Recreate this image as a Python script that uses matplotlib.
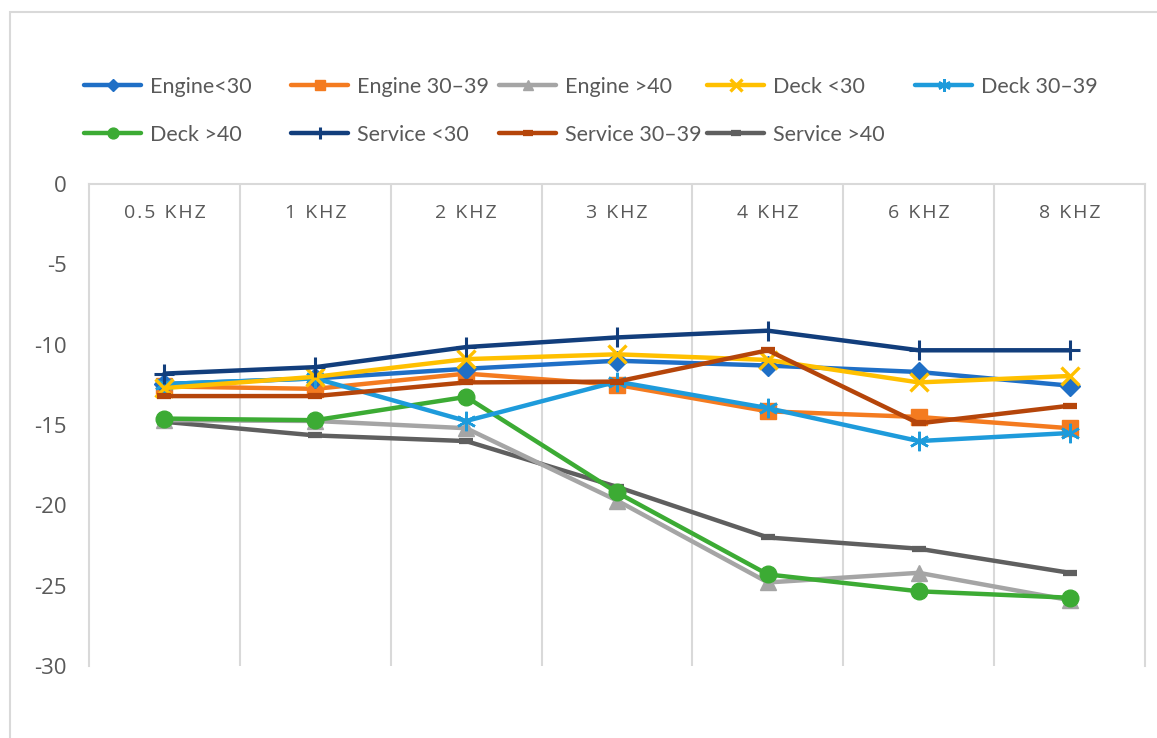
import matplotlib
matplotlib.use("Agg")
import matplotlib.pyplot as plt
from matplotlib.patches import Rectangle

# ---------------- data ----------------
categories = ["0.5 KHZ", "1 KHZ", "2 KHZ", "3 KHZ", "4 KHZ", "6 KHZ", "8 KHZ"]

engine_lt30   = [-12.45, -12.1, -11.5, -11.0, -11.3, -11.7, -12.55]
engine_30_39  = [-12.6, -12.75, -11.8, -12.5, -14.15, -14.5, -15.2]
engine_gt40   = [-14.7, -14.75, -15.2, -19.7, -24.8, -24.2, -25.9]
deck_lt30     = [-12.7, -12.0, -10.9, -10.6, -10.95, -12.35, -11.95]
deck_30_39    = [-12.45, -12.1, -14.75, -12.3, -13.95, -16.0, -15.5]
deck_gt40     = [-14.6, -14.7, -13.25, -19.2, -24.3, -25.35, -25.75]
service_lt30  = [-11.8, -11.4, -10.15, -9.55, -9.13, -10.35, -10.35]
service_30_39 = [-13.2, -13.2, -12.35, -12.3, -10.35, -14.9, -13.8]
service_gt40  = [-14.8, -15.65, -16.0, -18.85, -22.0, -22.7, -24.2]

series_labels = ["Engine<30", "Engine 30\u201339", "Engine >40", "Deck <30", "Deck 30\u201339",
                 "Deck >40", "Service <30", "Service 30\u201339", "Service >40"]
series_values = [engine_lt30, engine_30_39, engine_gt40, deck_lt30, deck_30_39,
                 deck_gt40, service_lt30, service_30_39, service_gt40]
series_colors = ["#1F6FC6", "#F47B20", "#A5A5A5", "#FFC000", "#1E9BDB",
                 "#3CAB34", "#123E7C", "#B5450A", "#5F5F5F"]
series_markers = ["D", "s", "^", "x", (6, 2, 0), "o", "+", "_", "_"]
series_msize = [10, 11, 11, 13, 14, 12, 14, 10, 10]
series_mew = [1, 1, 1, 2.4, 1.8, 1, 2.2, 4.5, 4.5]
series_z = [5, 4, 3, 6, 5, 3, 7, 6, 2]

# ---------------- figure ----------------
W, H = 1157, 738
fig = plt.figure(figsize=(W / 100, H / 100), dpi=100)
fig.patch.set_facecolor("white")

# outer light frame
fig.add_artist(Rectangle((10 / W, -0.1), 1.2, 1 - 12 / H + 0.1, transform=fig.transFigure,
                         fill=False, edgecolor="#D9D9D9", linewidth=1.5))

ax = fig.add_axes([89 / W, 1 - 666 / H, (1145 - 89) / W, (666 - 184) / H])

x = list(range(len(categories)))
handles = []
for vals, lab, col, mk, ms, mew, z in zip(series_values, series_labels, series_colors,
                                          series_markers, series_msize, series_mew, series_z):
    h, = ax.plot(x, vals, color=col, linewidth=3.2, marker=mk, markersize=ms,
                 markeredgewidth=mew, markeredgecolor=col, markerfacecolor=col,
                 label=lab, zorder=z, solid_capstyle="round", solid_joinstyle="round")
    handles.append(h)

ax.set_xlim(-0.5, len(categories) - 0.5)
ax.set_ylim(-30, 0)
ax.set_yticks([0, -5, -10, -15, -20, -25, -30])
ax.set_yticklabels(["0", "-5", "-10", "-15", "-20", "-25", "-30"])

# spines
grid_c = "#D9D9D9"
for s in ["top", "left", "right"]:
    ax.spines[s].set_color(grid_c)
    ax.spines[s].set_linewidth(1.5)
ax.spines["bottom"].set_visible(False)

# vertical gridlines between categories
ax.set_xticks([i + 0.5 for i in range(len(categories) - 1)], minor=True)
ax.grid(True, which="minor", axis="x", color=grid_c, linewidth=1.5)
ax.tick_params(which="minor", length=0)

# category labels inside the plot, below the top axis line
def spaced(s):
    return "\u200a".join(list(s))

ax.xaxis.tick_top()
ax.set_xticks(x)
ax.set_xticklabels([spaced(c) for c in categories], family=["Open Sans", "DejaVu Sans"],
                   fontsize=14, color="#595959")
ax.tick_params(axis="x", which="major", length=0, pad=-27)

ax.tick_params(axis="y", length=0, pad=16, labelsize=16, labelcolor="#595959")
for t in ax.get_yticklabels():
    t.set_family("Open Sans")

# legend: 5 evenly spaced columns, two rows
col_x = [84, 291, 499, 707, 915]
for c in range(5):
    idx = [c] + ([c + 5] if c + 5 < len(handles) else [])
    lg = fig.legend([handles[i] for i in idx], [series_labels[i] for i in idx],
                    loc="upper left", bbox_to_anchor=(col_x[c] / W, 1 - 77 / H),
                    frameon=False, ncol=1, borderpad=0, borderaxespad=0,
                    handlelength=2.65, handletextpad=0.4, labelspacing=1.3,
                    markerscale=0.65, prop={"family": "Lato", "size": 15.5})
    for t in lg.get_texts():
        t.set_color("#595959")

fig.savefig("out.png", dpi=100)
